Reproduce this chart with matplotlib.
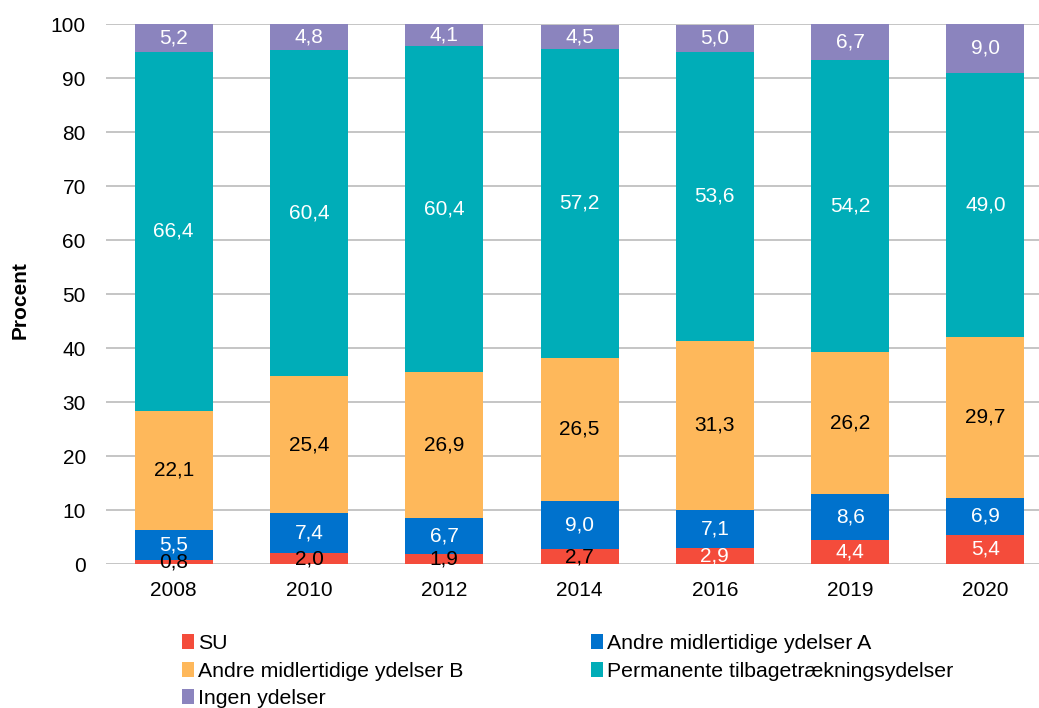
import matplotlib
matplotlib.use("Agg")
import matplotlib.pyplot as plt
import numpy as np

plt.rcParams['font.family'] = ['Liberation Sans', 'DejaVu Sans']

years = ["2008", "2010", "2012", "2014", "2016", "2019", "2020"]
su = [0.8, 2.0, 1.9, 2.7, 2.9, 4.4, 5.4]
andre_a = [5.5, 7.4, 6.7, 9.0, 7.1, 8.6, 6.9]
andre_b = [22.1, 25.4, 26.9, 26.5, 31.3, 26.2, 29.7]
perm = [66.4, 60.4, 60.4, 57.2, 53.6, 54.2, 49.0]
ingen = [5.2, 4.8, 4.1, 4.5, 5.0, 6.7, 9.0]

series = [
    ("SU", su, "#F44C3B"),
    ("Andre midlertidige ydelser A", andre_a, "#0072CD"),
    ("Andre midlertidige ydelser B", andre_b, "#FEB85B"),
    ("Permanente tilbagetrækningsydelser", perm, "#00ADB8"),
    ("Ingen ydelser", ingen, "#8B84BE"),
]
# label text colour per segment (black on light/small, white otherwise)
label_colors = {
    "SU": ["black", "black", "black", "black", "white", "white", "white"],
    "Andre midlertidige ydelser A": ["white"] * 7,
    "Andre midlertidige ydelser B": ["black"] * 7,
    "Permanente tilbagetrækningsydelser": ["white"] * 7,
    "Ingen ydelser": ["white"] * 7,
}

fig = plt.figure(figsize=(10.39, 7.08), dpi=100)
ax = fig.add_axes([106/1039, 1 - 564/708, 1 - 106/1039, (564 - 24)/708])

x = np.arange(len(years))
bottom = np.zeros(len(years))
handles = {}
for name, vals, col in series:
    vals = np.array(vals)
    b = ax.bar(x, vals, 0.577, bottom=bottom, color=col, zorder=3, label=name)
    handles[name] = b
    for i, v in enumerate(vals):
        ax.text(x[i], bottom[i] + v/2, f"{v:.1f}".replace(".", ","),
                ha="center", va="center", fontsize=15,
                color=label_colors[name][i], zorder=4)
    bottom += vals

ax.set_ylim(0, 100)
ax.set_xlim(-0.5, 6.396)
ax.set_yticks(range(0, 101, 10))
ax.set_xticks(x)
ax.set_xticklabels(years)
ax.tick_params(axis="both", length=0, labelsize=15)
ax.tick_params(axis="y", pad=14.5)
ax.tick_params(axis="x", pad=12)
ax.grid(axis="y", color="#C0C0C0", linewidth=1.3, zorder=0)
for s in ax.spines.values():
    s.set_visible(False)

fig.text(20/1039, 1 - 300/708, "Procent", rotation=90, fontsize=15,
         fontweight="bold", ha="center", va="center")

order = ["SU", "Andre midlertidige ydelser B", "Ingen ydelser",
         "Andre midlertidige ydelser A", "Permanente tilbagetrækningsydelser"]
fig.legend([handles[n] for n in order], order, ncol=2, loc="upper left",
           bbox_to_anchor=(182/1039, 1 - 634/708), frameon=False,
           fontsize=15.3, handlelength=0.55, handleheight=0.73,
           handletextpad=0.2, labelspacing=0.4, columnspacing=6.0,
           borderaxespad=0, borderpad=0)

fig.savefig("out.png", dpi=100)
